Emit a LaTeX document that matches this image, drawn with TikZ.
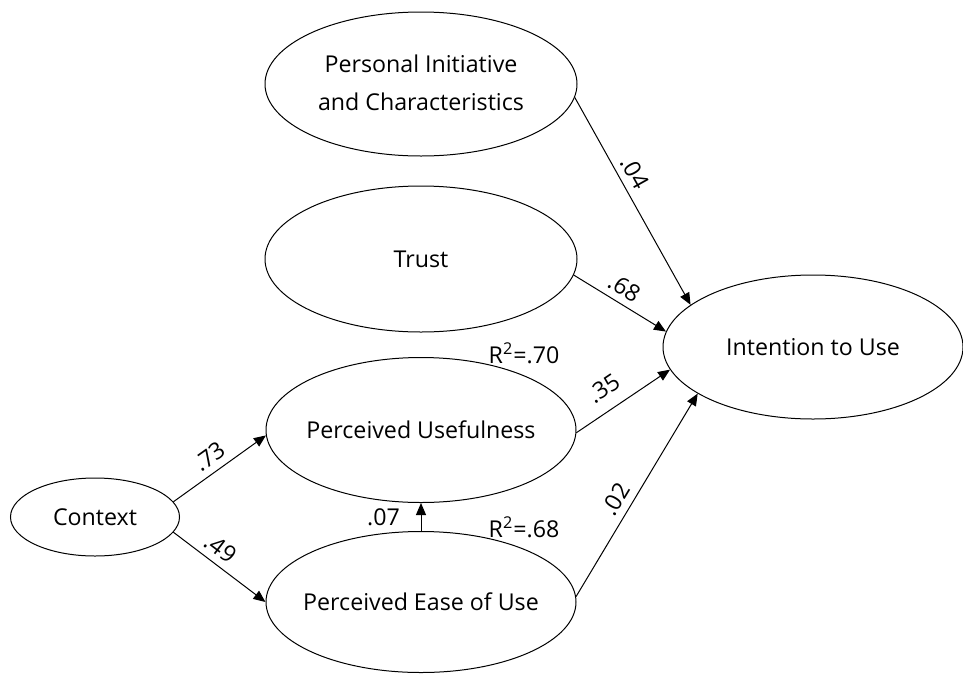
\documentclass[tikz,border=0pt]{standalone}
\usepackage{fontspec}
\setmainfont{Open Sans}
\usetikzlibrary{arrows.meta,shapes.geometric}

\begin{document}
\begin{tikzpicture}[x=0.5pt,y=-0.5pt,
    font=\fontsize{11.6}{19}\selectfont,
    latent/.style={draw, ellipse, inner sep=0pt, line width=0.5pt},
    effect/.style={draw, line width=0.5pt, -{Triangle[length=6pt,width=5pt]}},
    coef/.style={sloped, above}]
  \useasboundingbox (0,0) rectangle (963,675);
  % latent variables
  \node[latent, minimum width=156pt, minimum height=72pt] (pic) at (421,84)
    {\makebox[0pt]{\begin{tabular}{@{}c@{}}Personal Initiative\\ and Characteristics\end{tabular}}};
  \node[latent, minimum width=156pt, minimum height=73pt] (trust) at (421,259) {\makebox[0pt]{Trust}};
  \node[latent, minimum width=150pt, minimum height=72pt] (itu) at (813,347) {\makebox[0pt]{Intention to Use}};
  \node[latent, minimum width=155pt, minimum height=72.5pt] (pu) at (421,430) {\makebox[0pt]{Perceived Usefulness}};
  \node[latent, minimum width=155pt, minimum height=70.5pt] (peou) at (421,602) {\makebox[0pt]{Perceived Ease of Use}};
  \node[latent, minimum width=84.5pt, minimum height=39pt] (ctx) at (95,517) {\makebox[0pt]{Context}};
  % paths
  \draw[effect] (pic.-5) -- node[coef, pos=0.4] {.04} (itu.161);
  \draw[effect] (trust.-6) -- node[coef, pos=0.46] {.68} (itu.174);
  \draw[effect] (pu.-1) -- node[coef, pos=0.42, yshift=3pt] {.35} (itu.189);
  \draw[effect] (peou.2) -- node[coef, pos=0.44] {.02} (itu.202);
  \draw[effect] (ctx.11) -- node[coef, pos=0.49] {.73} (pu.182);
  \draw[effect] (ctx.-11) -- node[coef, pos=0.41] {.49} (peou.180);
  \draw[effect] (peou.north) -- node[left=7pt] {.07} (pu.south);
  % explained variance
  \node (r2pu) at (524,353) {R\textsuperscript{2}=.70};
  \node (r2peou) at (524,527) {R\textsuperscript{2}=.68};
\end{tikzpicture}
\end{document}
